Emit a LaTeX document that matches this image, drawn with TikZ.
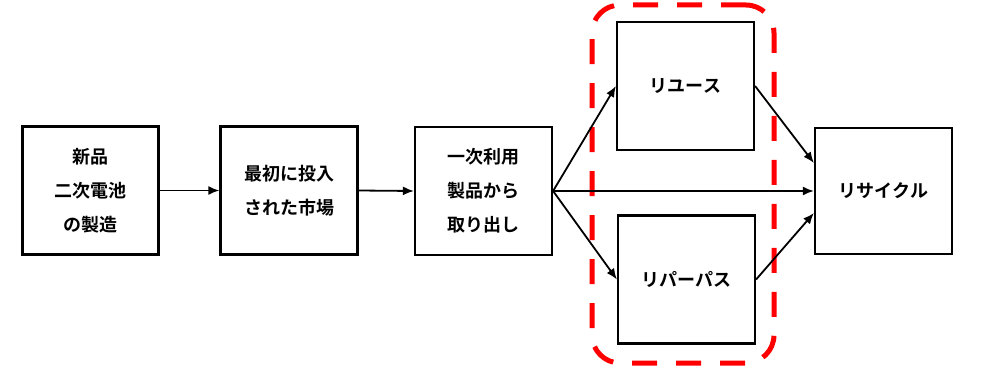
\documentclass[tikz,border=0pt]{standalone}
\usepackage{fontspec}
\setmainfont{Noto Sans CJK JP}[BoldFont={* Bold}]
\usetikzlibrary{arrows.meta}
\begin{document}
\begin{tikzpicture}[x=1pt,y=-1pt,
  box/.style={draw=black,line width=2.2pt,fill=white,inner sep=0pt,align=center,
    font=\fontsize{18}{34}\selectfont\bfseries},
  conn/.style={line width=1.8pt,-{Latex[length=11pt,width=9pt]}},
  grp/.style={draw=red,line width=5pt,dash pattern=on 25pt off 19pt,rounded corners=28pt}]
\useasboundingbox (0,0) rectangle (983,377);
\node[grp,minimum width=182pt,minimum height=358pt] (g) at (683,184) {};
\node[box,minimum width=136pt,minimum height=128pt] (n1) at (90.5,190.5) {新品\\二次電池\\の製造};
\node[box,minimum width=137pt,minimum height=128pt] (n2) at (289,190.5) {最初に投入\\された市場};
\node[box,minimum width=137pt,minimum height=128pt] (n3) at (483.5,191) {一次利用\\製品から\\取り出し};
\node[box,minimum width=137pt,minimum height=128pt] (n4) at (685.5,86) {リユース};
\node[box,minimum width=137pt,minimum height=128pt] (n5) at (686.5,279.5) {リパーパス};
\node[box,minimum width=137pt,minimum height=126pt] (n6) at (883.5,191) {リサイクル};
\draw[conn] (n1.east) -- (n2.west);
\draw[conn] (n2.east) -- (n3.west);
\draw[conn] (n3.east) -- (n4.west);
\draw[conn] (n3.east) -- (n5.west);
\draw[conn] (n3.east) -- (n6.west);
\draw[conn] (n4.east) -- ([yshift=28pt]n6.west);
\draw[conn] (n5.east) -- ([yshift=-22pt]n6.west);
\end{tikzpicture}
\end{document}
